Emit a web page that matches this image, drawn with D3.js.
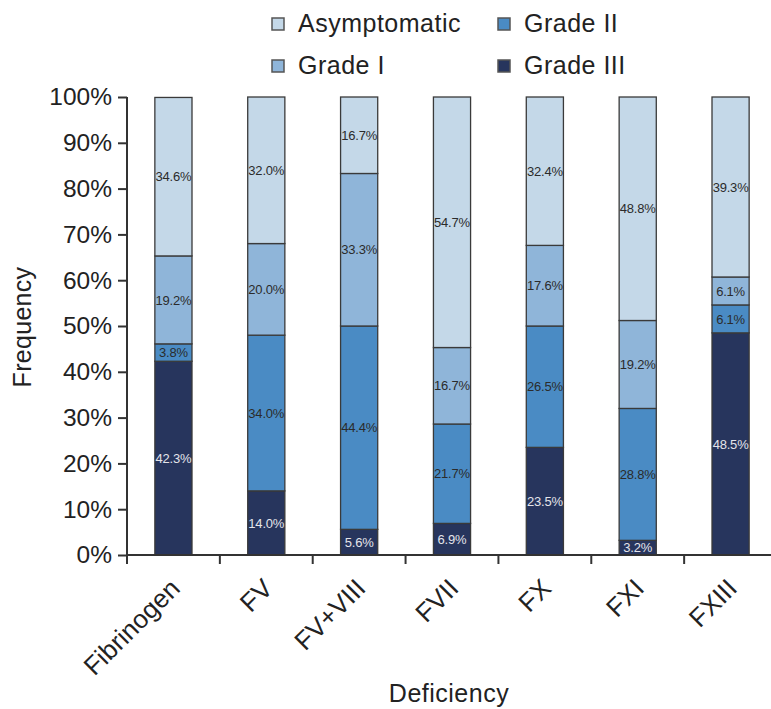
<!DOCTYPE html>
<html>
<head>
<meta charset="utf-8">
<script src="https://cdn.jsdelivr.net/npm/d3@7"></script>
<style>
  html, body { margin: 0; padding: 0; background: #ffffff; }
  svg { display: block; font-family: "Liberation Sans", Arial, sans-serif; }
</style>
</head>
<body>
<svg id="chart" width="771" height="709"></svg>
<script>
// Deficiency categories and severity shares (percent)
const categories = ["Fibrinogen", "FV", "FV+VIII", "FVII", "FX", "FXI", "FXIII"];
const gradeIII     = [42.3, 14.0, 5.6, 6.9, 23.5, 3.2, 48.5];
const gradeII      = [3.8, 34.0, 44.4, 21.7, 26.5, 28.8, 6.1];
const gradeI       = [19.2, 20.0, 33.3, 16.7, 17.6, 19.2, 6.1];
const asymptomatic = [34.6, 32.0, 16.7, 54.7, 32.4, 48.8, 39.3];
const yTicks = [0, 10, 20, 30, 40, 50, 60, 70, 80, 90, 100];

// Stack order, bottom to top
const seriesKeys = ["Grade III", "Grade II", "Grade I", "Asymptomatic"];
const seriesValues = {
  "Grade III": gradeIII,
  "Grade II": gradeII,
  "Grade I": gradeI,
  "Asymptomatic": asymptomatic
};
const colors = {
  "Asymptomatic": "#c4d8e8",
  "Grade I": "#8fb5d9",
  "Grade II": "#4a8bc4",
  "Grade III": "#27355d"
};
const labelColors = {
  "Asymptomatic": "#2b2b2b",
  "Grade I": "#2b2b2b",
  "Grade II": "#2b2b2b",
  "Grade III": "#e4e4ea"
};
const textColor = "#222222";

const rows = categories.map((c, i) => {
  const r = { category: c };
  seriesKeys.forEach(k => { r[k] = seriesValues[k][i]; });
  return r;
});

const svg = d3.select("#chart");
const plot = { left: 127, right: 777, top: 97, bottom: 555 };

const x = d3.scaleBand()
  .domain(categories)
  .range([plot.left, plot.right])
  .paddingInner(0.6)
  .paddingOuter(0.3);

const y = d3.scaleLinear()
  .domain([0, 100])
  .range([plot.bottom, plot.top]);

const stacked = d3.stack().keys(seriesKeys)(rows);

// Bars
const layers = svg.append("g").selectAll("g")
  .data(stacked)
  .join("g");

layers.selectAll("rect")
  .data(d => d.map(p => ({ key: d.key, p })))
  .join("rect")
  .attr("x", d => x(d.p.data.category))
  .attr("width", x.bandwidth())
  .attr("y", d => y(d.p[1]))
  .attr("height", d => y(d.p[0]) - y(d.p[1]))
  .attr("fill", d => colors[d.key])
  .attr("stroke", "#3a3a3a")
  .attr("stroke-width", 1.3);

// Segment value labels
layers.selectAll("text")
  .data(d => d.map(p => ({ key: d.key, p })))
  .join("text")
  .attr("x", d => x(d.p.data.category) + x.bandwidth() / 2)
  .attr("y", d => y((d.p[0] + d.p[1]) / 2))
  .attr("dy", "0.36em")
  .attr("text-anchor", "middle")
  .attr("font-size", 13)
  .attr("letter-spacing", "-0.2px")
  .attr("fill", d => labelColors[d.key])
  .text(d => d.p.data[d.key].toFixed(1) + "%");

// Y axis
const yAxis = svg.append("g")
  .attr("transform", `translate(${plot.left},0)`)
  .call(d3.axisLeft(y).tickValues(yTicks).tickFormat(d => d + "%").tickSize(9).tickPadding(6));
yAxis.select(".domain").attr("d", `M0,${plot.top}V${plot.bottom + 9}`);
yAxis.selectAll("line, .domain").attr("stroke", "#333").attr("stroke-width", 2);
yAxis.selectAll("text")
  .attr("font-size", 24.5)
  .attr("fill", textColor)
  .attr("font-family", "Liberation Sans, Arial, sans-serif");

// X axis: baseline with ticks at band boundaries
const xAxisG = svg.append("g");
xAxisG.append("line")
  .attr("x1", plot.left).attr("x2", 771)
  .attr("y1", plot.bottom).attr("y2", plot.bottom)
  .attr("stroke", "#333").attr("stroke-width", 2);
const step = x.step();
const boundaries = categories.slice(1).map(c => x(c) - (step - x.bandwidth()) / 2);
xAxisG.selectAll("line.tick")
  .data(boundaries)
  .join("line")
  .attr("class", "tick")
  .attr("x1", d => d).attr("x2", d => d)
  .attr("y1", plot.bottom).attr("y2", plot.bottom + 9)
  .attr("stroke", "#333").attr("stroke-width", 2);

xAxisG.selectAll("text")
  .data(categories)
  .join("text")
  .attr("transform", d => `translate(${x(d) + x.bandwidth() / 2 + 8},${plot.bottom + 35}) rotate(-45)`)
  .attr("text-anchor", "end")
  .attr("font-size", 26)
  .attr("fill", textColor)
  .text(d => d);

// Axis titles
svg.append("text")
  .attr("transform", `translate(31,${(plot.top + plot.bottom) / 2 + 1}) rotate(-90)`)
  .attr("text-anchor", "middle")
  .attr("font-size", 25)
  .attr("letter-spacing", "0.3px")
  .attr("fill", textColor)
  .text("Frequency");

svg.append("text")
  .attr("x", (plot.left + plot.right) / 2 - 3)
  .attr("y", 702)
  .attr("text-anchor", "middle")
  .attr("font-size", 25)
  .attr("letter-spacing", "0.5px")
  .attr("fill", textColor)
  .text("Deficiency");

// Legend, two columns
const legendItems = [
  { key: "Asymptomatic", col: 0, row: 0 },
  { key: "Grade I", col: 0, row: 1 },
  { key: "Grade II", col: 1, row: 0 },
  { key: "Grade III", col: 1, row: 1 }
];
const legend = svg.append("g");
const legendG = legend.selectAll("g")
  .data(legendItems)
  .join("g")
  .attr("transform", d => `translate(${d.col === 0 ? 272 : 498},${d.row === 0 ? 18 : 60})`);
legendG.append("rect")
  .attr("width", 12).attr("height", 12)
  .attr("fill", d => colors[d.key])
  .attr("stroke", "#555").attr("stroke-width", 1.5);
legendG.append("text")
  .attr("x", 26)
  .attr("y", 14)
  .attr("font-size", 25)
  .attr("letter-spacing", "0.5px")
  .attr("fill", textColor)
  .text(d => d.key);
</script>
</body>
</html>
